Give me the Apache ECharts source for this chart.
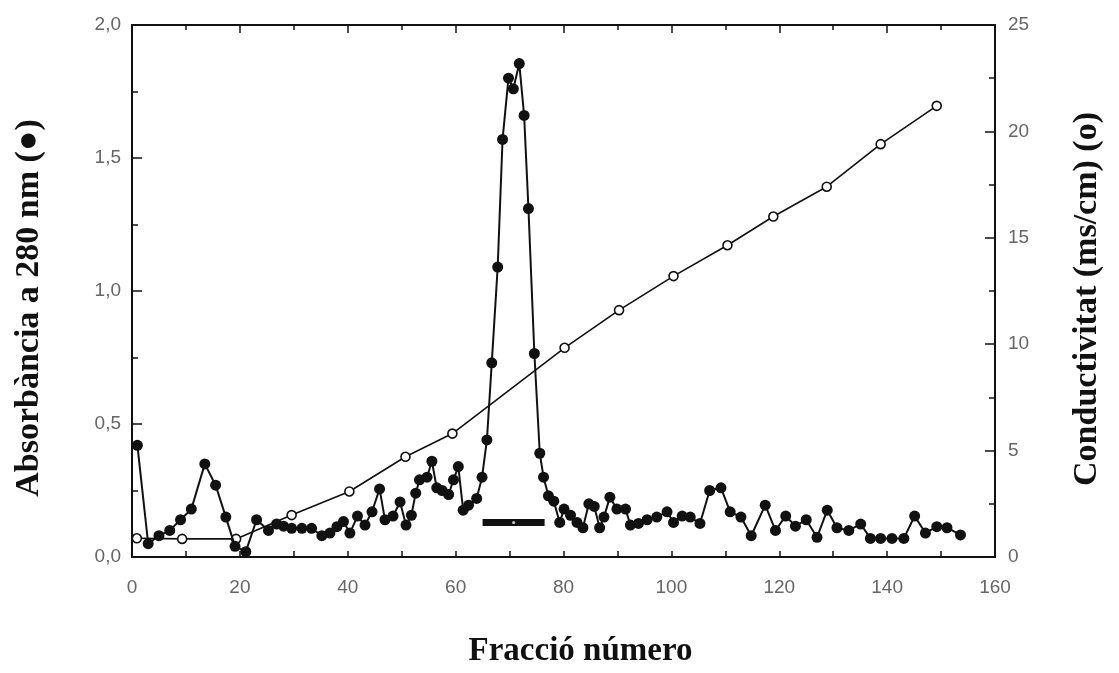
<!DOCTYPE html>
<html>
<head>
<meta charset="utf-8">
<script src="https://cdn.jsdelivr.net/npm/echarts@6/dist/echarts.min.js"></script>
<style>html,body{margin:0;padding:0;background:#fff}#c{width:1119px;height:673px}</style>
</head>
<body>
<div id="c"></div>
<script>
// Absorbance at 280 nm (filled circles)
const absFraction = [1,3,5,7,9,11,13.5,15.5,17.4,19.1,21.1,23.1,25.3,26.8,28.1,29.6,31.5,33.3,35.2,36.7,38,39.2,40.4,41.8,43.2,44.5,45.9,46.9,48.4,49.7,50.8,51.8,52.6,53.3,54.7,55.6,56.5,57.5,58.7,59.6,60.5,61.4,62.4,63.9,64.9,65.8,66.7,67.8,68.7,69.8,70.7,71.8,72.7,73.5,74.6,75.6,76.3,77.2,78.2,79.3,80.1,81.3,82.5,83.6,84.7,85.7,86.7,87.5,88.6,89.9,91.5,92.4,93.9,95.5,97.3,99.2,100.4,102,103.5,105.3,107.1,109.2,110.9,112.9,114.8,117.4,119.3,121.2,123,125,127,128.9,130.7,132.9,135.1,136.9,138.8,140.9,143.1,145.1,147.1,149.2,151.1,153.6];
const absorbance = [0.42,0.05,0.08,0.10,0.14,0.18,0.35,0.27,0.15,0.04,0.02,0.14,0.10,0.124,0.116,0.108,0.108,0.108,0.08,0.09,0.114,0.133,0.09,0.154,0.12,0.17,0.256,0.14,0.154,0.207,0.12,0.157,0.24,0.29,0.30,0.36,0.26,0.25,0.235,0.29,0.34,0.176,0.195,0.22,0.30,0.44,0.73,1.09,1.57,1.80,1.76,1.855,1.66,1.31,0.765,0.39,0.30,0.23,0.21,0.13,0.18,0.157,0.13,0.11,0.20,0.19,0.11,0.15,0.225,0.18,0.18,0.12,0.126,0.14,0.15,0.17,0.13,0.154,0.15,0.126,0.25,0.26,0.17,0.15,0.08,0.195,0.10,0.154,0.116,0.14,0.074,0.176,0.11,0.10,0.124,0.07,0.07,0.07,0.07,0.154,0.09,0.114,0.11,0.083];
// Conductivity (open circles)
const condFraction = [0.9,9.3,19.3,29.6,40.3,50.7,59.4,80.2,90.3,100.4,110.4,118.9,128.8,138.8,149.2];
const conductivity = [0.88,0.85,0.85,1.97,3.08,4.71,5.8,9.83,11.6,13.2,14.65,16.0,17.4,19.4,21.2];
// Pooled fractions bar
const poolFraction = [65, 76.5];
const poolLevel = 0.13;
const xTicks = [0,20,40,60,80,100,120,140,160];

const pair = (xs, ys) => xs.map((x, i) => [x, ys[i]]);
const lblColor = '#666';
const tickFont = {color: lblColor, fontSize: 19, fontFamily: 'Liberation Sans, Arial, sans-serif'};
const titleFont = {color: '#111', fontWeight: 'bold', fontFamily: 'Liberation Serif, Times New Roman, serif'};
const axisLine = {show: true, onZero: false, lineStyle: {color: '#111', width: 2}};
const tickStyle = {color: '#111', width: 1.5};

const chart = echarts.init(document.getElementById('c'));
chart.setOption({
  animation: false,
  backgroundColor: '#fff',
  grid: {left: 132, right: 124, top: 25, bottom: 109, containLabel: false},
  xAxis: [
    {type: 'value', position: 'bottom', min: xTicks[0], max: xTicks[xTicks.length-1], interval: 20,
     name: 'Fracció número', nameLocation: 'middle', nameGap: 78,
     nameTextStyle: Object.assign({fontSize: 33, padding: [0, 0, 0, 34]}, titleFont),
     axisLine: axisLine, splitLine: {show: false},
     axisTick: {show: true, inside: true, length: 6, lineStyle: tickStyle},
     minorTick: {show: true, splitNumber: 2, length: 6, lineStyle: tickStyle},
     axisLabel: Object.assign({margin: 21}, tickFont)},
    {type: 'value', position: 'top', min: xTicks[0], max: xTicks[xTicks.length-1], interval: 20,
     axisLine: axisLine, splitLine: {show: false},
     axisTick: {show: true, inside: true, length: 8, lineStyle: tickStyle},
     minorTick: {show: true, splitNumber: 2, length: 5, lineStyle: tickStyle},
     axisLabel: {show: false}}
  ],
  yAxis: [
    {type: 'value', position: 'left', min: 0, max: 2, interval: 0.5,
     name: 'Absorbància a 280 nm (●)', nameLocation: 'middle', nameGap: 86,
     nameTextStyle: Object.assign({fontSize: 34, padding: [0, 34, 0, 0]}, titleFont),
     axisLine: axisLine, splitLine: {show: false},
     axisTick: {show: true, inside: true, length: 10, lineStyle: tickStyle},
     minorTick: {show: true, splitNumber: 2, length: 6, lineStyle: tickStyle},
     axisLabel: Object.assign({margin: 11, formatter: v => v.toFixed(1).replace('.', ',')}, tickFont)},
    {type: 'value', position: 'right', min: 0, max: 25, interval: 5,
     name: 'Conductivitat (ms/cm) (o)', nameLocation: 'middle', nameGap: 75, nameRotate: 90,
     nameTextStyle: Object.assign({fontSize: 34, padding: [0, 16, 0, 0]}, titleFont),
     axisLine: axisLine, splitLine: {show: false},
     axisTick: {show: true, inside: true, length: 10, lineStyle: tickStyle},
     minorTick: {show: true, splitNumber: 2, length: 6, lineStyle: tickStyle},
     axisLabel: Object.assign({margin: 13}, tickFont)}
  ],
  series: [
    {type: 'line', name: 'Conductivitat', xAxisIndex: 0, yAxisIndex: 1, data: pair(condFraction, conductivity),
     symbol: 'circle', symbolSize: 9, showAllSymbol: true, z: 2,
     lineStyle: {color: '#111', width: 1.6},
     itemStyle: {color: '#fff', borderColor: '#111', borderWidth: 1.6}},
    {type: 'line', name: 'Absorbància', xAxisIndex: 0, yAxisIndex: 0, data: pair(absFraction, absorbance),
     symbol: 'circle', symbolSize: 11, showAllSymbol: true, z: 3,
     lineStyle: {color: '#111', width: 2},
     itemStyle: {color: '#111', borderColor: '#111', borderWidth: 0}},
    {type: 'line', name: 'Pool', xAxisIndex: 0, yAxisIndex: 0, data: poolFraction.map(x => [x, poolLevel]),
     symbol: 'none', z: 4, lineStyle: {color: '#111', width: 7, cap: 'butt'}},
    {type: 'scatter', xAxisIndex: 0, yAxisIndex: 0, data: [[(poolFraction[0] + poolFraction[1]) / 2, poolLevel]],
     symbol: 'circle', symbolSize: 3, z: 5, itemStyle: {color: '#fff'}}
  ]
});
</script>
</body>
</html>
